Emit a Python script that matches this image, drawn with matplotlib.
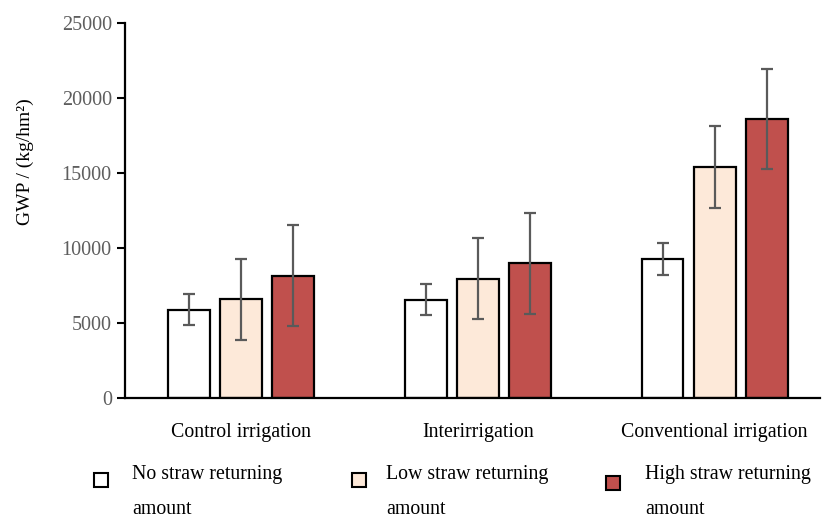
import numpy as np
import matplotlib.pyplot as plt
from matplotlib.patches import Rectangle

plt.rcParams['font.family'] = ['Liberation Serif', 'DejaVu Serif']

# data
groups = ['Control irrigation', 'Interirrigation', 'Conventional irrigation']
series = ['No straw returning', 'Low straw returning', 'High straw returning']
no_straw = [5900, 6550, 9270]
low_straw = [6580, 7960, 15400]
high_straw = [8160, 8980, 18600]
no_err = [1040, 1040, 1040]
low_err = [2720, 2720, 2720]
high_err = [3350, 3350, 3350]

colors = ['#ffffff', '#fde9d9', '#c0504d']
values = [no_straw, low_straw, high_straw]
errors = [no_err, low_err, high_err]

W, H = 822, 520
fig = plt.figure(figsize=(W / 100, H / 100), dpi=100)
ax = fig.add_axes([125 / W, (H - 398) / H, (820 - 125) / W, (398 - 23) / H])

x = np.arange(len(groups))
width = 0.177
offset = 0.22
for i in range(3):
    ax.bar(x + (i - 1) * offset, values[i], width, color=colors[i],
           edgecolor='black', linewidth=1.6, zorder=2)
    ax.errorbar(x + (i - 1) * offset, values[i], yerr=errors[i], fmt='none',
                ecolor='#5a5a5a', elinewidth=1.6, capsize=4.5, capthick=1.6,
                zorder=3)

ax.set_xlim(-0.49, 2.445)
ax.set_ylim(0, 25000)
ax.set_yticks(range(0, 25001, 5000))
ax.set_xticks(x)
ax.set_xticklabels(groups, fontsize=14.3)
ax.tick_params(axis='x', length=0, pad=18)
ax.tick_params(axis='y', length=5.5, width=1.5, pad=4, labelsize=14.5,
               labelcolor='#5e5e5e')
for s in ['top', 'right']:
    ax.spines[s].set_visible(False)
ax.spines['left'].set_linewidth(1.6)
ax.spines['bottom'].set_linewidth(1.6)

fig.text(25 / W, 1 - 162 / H, 'GWP / (kg/hm²)', rotation=90, fontsize=14,
         ha='center', va='center')

# legend drawn by hand: square + two-line label
sq_x = [94, 352, 606]
sq_y = [473, 473, 476]
txt_x = [132, 386, 645]
for i in range(3):
    fig.add_artist(Rectangle((sq_x[i] / W, 1 - (sq_y[i] + 14) / H), 14 / W, 14 / H,
                             transform=fig.transFigure, facecolor=colors[i],
                             edgecolor='black', linewidth=1.5))
    fig.text(txt_x[i] / W, 1 - 474 / H, series[i], fontsize=14.3,
             ha='left', va='center')
    fig.text(txt_x[i] / W, 1 - 509 / H, 'amount', fontsize=14.3,
             ha='left', va='center')

fig.savefig('out.png', dpi=100)
